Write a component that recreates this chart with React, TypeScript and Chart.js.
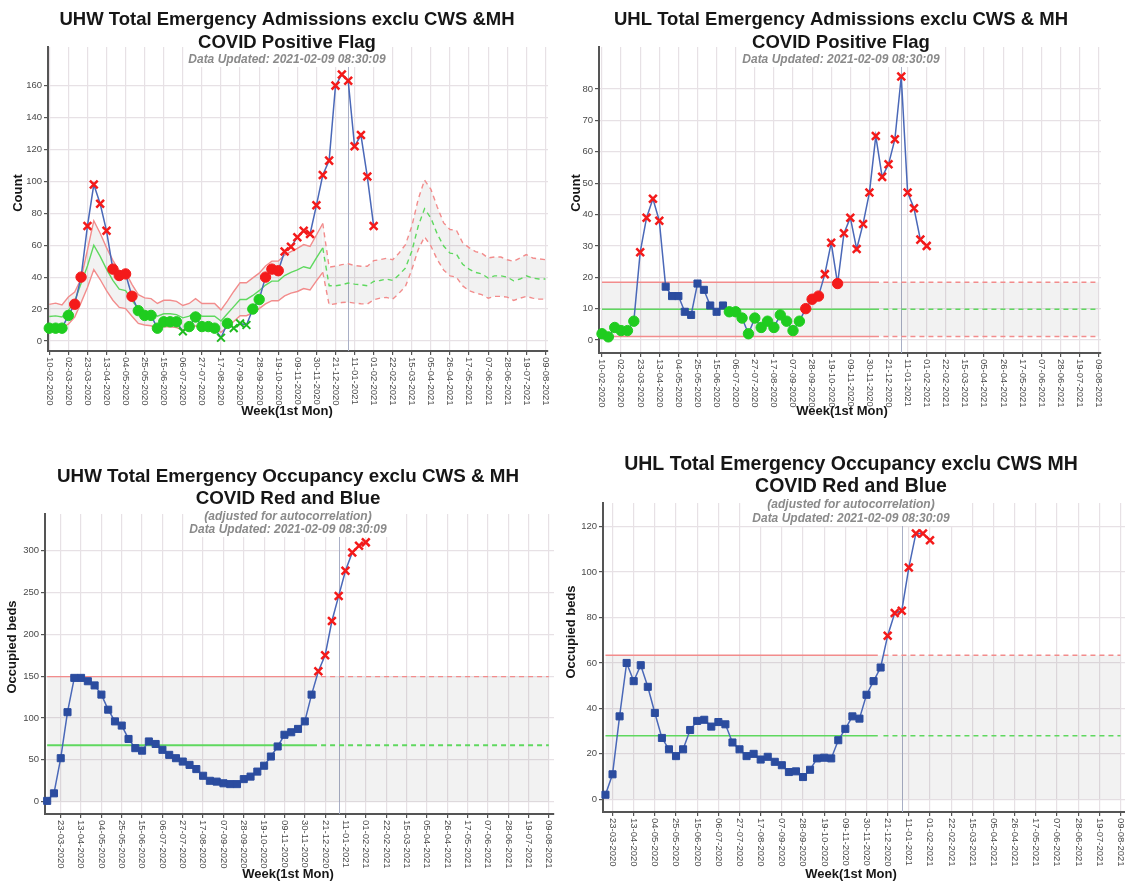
import { useEffect, useRef } from 'react';
import { Chart, registerables } from 'chart.js';

Chart.register(...registerables);

const FONT = "Arial, 'Liberation Sans', Helvetica, sans-serif";

// ---------- shared axis ticks (x = week index, weeks since Mon 10-02-2020) ----------
const admTickWeeks = [0, 3, 6, 9, 12, 15, 18, 21, 24, 27, 30, 33, 36, 39, 42, 45, 48, 51, 54, 57, 60, 63, 66, 69, 72, 75, 78];
const admTickLabels = ['10-02-2020', '02-03-2020', '23-03-2020', '13-04-2020', '04-05-2020', '25-05-2020', '15-06-2020', '06-07-2020', '27-07-2020', '17-08-2020', '07-09-2020', '28-09-2020', '19-10-2020', '09-11-2020', '30-11-2020', '21-12-2020', '11-01-2021', '01-02-2021', '22-02-2021', '15-03-2021', '05-04-2021', '26-04-2021', '17-05-2021', '07-06-2021', '28-06-2021', '19-07-2021', '09-08-2021'];
const occTickWeeks = [6, 9, 12, 15, 18, 21, 24, 27, 30, 33, 36, 39, 42, 45, 48, 51, 54, 57, 60, 63, 66, 69, 72, 75, 78];
const occTickLabels = ['23-03-2020', '13-04-2020', '04-05-2020', '25-05-2020', '15-06-2020', '06-07-2020', '27-07-2020', '17-08-2020', '07-09-2020', '28-09-2020', '19-10-2020', '09-11-2020', '30-11-2020', '21-12-2020', '11-01-2021', '01-02-2021', '22-02-2021', '15-03-2021', '05-04-2021', '26-04-2021', '17-05-2021', '07-06-2021', '28-06-2021', '19-07-2021', '09-08-2021'];
const separatorWeek = 47;
const lastWeek = 78;
const dataUpdated = 'Data Updated: 2021-02-09 08:30:09';
const autocorrNote = '(adjusted for autocorrelation)';

// ---------- UHW emergency admissions (COVID positive flag) ----------
const uhwAdmStartWeek = 0;
const uhwAdmCounts = [8, 8, 8, 16, 23, 40, 72, 98, 86, 69, 45, 41, 42, 28, 19, 16, 16, 8, 12, 12, 12, 6, 9, 15, 9, 9, 8, 2, 11, 8, 11, 10, 20, 26, 40, 45, 44, 56, 59, 65, 69, 67, 85, 104, 113, 160, 167, 163, 122, 129, 103, 72];
const uhwAdmSignals = ['sl', 'sl', 'sl', 'sl', 'sh', 'sh', 'oh', 'oh', 'oh', 'oh', 'sh', 'sh', 'sh', 'sh', 'sl', 'sl', 'sl', 'sl', 'sl', 'sl', 'sl', 'ol', 'sl', 'sl', 'sl', 'sl', 'sl', 'ol', 'sl', 'ol', 'ol', 'ol', 'sl', 'sl', 'sh', 'sh', 'sh', 'oh', 'oh', 'oh', 'oh', 'oh', 'oh', 'oh', 'oh', 'oh', 'oh', 'oh', 'oh', 'oh', 'oh', 'oh'];
const uhwAdmCentre = [15.3, 15.7, 15.0, 19.0, 25.0, 36.0, 47.0, 60.0, 53.0, 45.0, 38.0, 32.5, 31.5, 25.5, 20.0, 18.5, 18.0, 15.5, 17.0, 17.0, 16.5, 14.5, 15.5, 18.0, 15.5, 15.5, 15.5, 12.5, 17.0, 21.5, 26.0, 26.0, 28.5, 31.5, 35.0, 37.5, 37.5, 41.0, 43.0, 44.5, 46.5, 45.5, 52.0, 58.3, 34.6, 34.6, 35.2, 36.3, 35.6, 35.2, 34.6, 37.3, 37.9, 38.8, 37.9, 41.5, 45.7, 56.2, 71.9, 82.8, 77.0, 67.0, 59.5, 55.0, 54.5, 48.0, 45.0, 43.0, 42.0, 39.4, 40.8, 40.8, 40.0, 37.7, 38.8, 40.8, 39.4, 38.8, 38.8];
const uhwAdmUpper = [22.9, 23.7, 22.5, 27.5, 30.6, 39.0, 57.0, 75.3, 67.5, 58.5, 50.5, 44.0, 43.0, 35.5, 29.0, 27.0, 26.5, 23.5, 25.5, 25.5, 24.8, 22.2, 23.5, 26.5, 23.5, 23.5, 23.5, 19.5, 25.0, 31.0, 36.5, 36.5, 39.5, 42.5, 47.0, 50.0, 50.0, 53.8, 56.0, 58.0, 60.4, 59.3, 66.4, 73.6, 46.3, 46.8, 47.8, 48.4, 47.2, 46.8, 46.8, 50.3, 50.9, 51.8, 50.9, 55.1, 60.4, 71.9, 88.7, 100.8, 95.0, 84.0, 74.0, 69.8, 69.4, 61.5, 58.5, 56.0, 55.0, 52.0, 52.6, 52.6, 50.9, 49.9, 52.0, 54.1, 52.0, 51.4, 50.9];
const uhwAdmLower = [8.5, 8.8, 8.3, 10.5, 15.0, 24.0, 33.5, 44.7, 38.5, 31.5, 25.5, 21.0, 20.3, 15.5, 11.0, 10.0, 9.5, 7.6, 8.8, 8.8, 8.4, 6.9, 7.6, 9.5, 7.6, 7.6, 7.6, 5.4, 8.8, 12.2, 15.8, 15.8, 17.8, 20.3, 23.2, 25.2, 25.2, 28.2, 30.0, 31.0, 32.8, 32.0, 37.6, 43.0, 22.6, 23.3, 24.1, 24.3, 23.7, 23.3, 23.1, 25.8, 26.8, 27.3, 26.2, 30.0, 34.2, 44.7, 57.2, 65.2, 59.5, 51.0, 44.5, 40.8, 40.0, 34.5, 31.5, 30.0, 29.0, 26.8, 27.9, 27.9, 27.5, 25.4, 26.8, 27.9, 26.8, 26.2, 26.2];
const uhwAdmBaselineEnd = 43;

// ---------- UHL emergency admissions (COVID positive flag) ----------
const uhlAdmStartWeek = 0;
const uhlAdmCounts = [2, 1, 4, 3, 3, 6, 28, 39, 45, 38, 17, 14, 14, 9, 8, 18, 16, 11, 9, 11, 9, 9, 7, 2, 7, 4, 6, 4, 8, 6, 3, 6, 10, 13, 14, 21, 31, 18, 34, 39, 29, 37, 47, 65, 52, 56, 64, 84, 47, 42, 32, 30];
const uhlAdmSignals = ['sl', 'sl', 'sl', 'sl', 'sl', 'sl', 'oh', 'oh', 'oh', 'oh', 'n', 'n', 'n', 'n', 'n', 'n', 'n', 'n', 'n', 'n', 'sl', 'sl', 'sl', 'sl', 'sl', 'sl', 'sl', 'sl', 'sl', 'sl', 'sl', 'sl', 'sh', 'sh', 'sh', 'oh', 'oh', 'sh', 'oh', 'oh', 'oh', 'oh', 'oh', 'oh', 'oh', 'oh', 'oh', 'oh', 'oh', 'oh', 'oh', 'oh'];
const uhlAdmCentre = 9.8;
const uhlAdmUpper = 18.4;
const uhlAdmLower = 1.1;
const uhlAdmBaselineEnd = 43.5;
const uhlAdmProjectionStart = 44.2;

// ---------- UHW emergency occupancy (COVID red and blue) ----------
const uhwOccStartWeek = 4;
const uhwOccBeds = [1, 10, 52, 107, 148, 148, 144, 139, 128, 110, 96, 91, 75, 64, 61, 72, 69, 62, 56, 52, 48, 44, 39, 31, 25, 24, 22, 21, 21, 27, 30, 36, 43, 54, 66, 80, 83, 87, 96, 128, 156, 175, 216, 246, 276, 298, 306, 310];
const uhwOccSignals = ['n', 'n', 'n', 'n', 'n', 'n', 'n', 'n', 'n', 'n', 'n', 'n', 'n', 'n', 'n', 'n', 'n', 'n', 'n', 'n', 'n', 'n', 'n', 'n', 'n', 'n', 'n', 'n', 'n', 'n', 'n', 'n', 'n', 'n', 'n', 'n', 'n', 'n', 'n', 'n', 'oh', 'oh', 'oh', 'oh', 'oh', 'oh', 'oh', 'oh'];
const uhwOccCentre = 67.5;
const uhwOccUpper = 149.5;
const uhwOccLower = 0;
const uhwOccBaselineEnd = 43.8;
const uhwOccProjectionStart = 44.4;

// ---------- UHL emergency occupancy (COVID red and blue) ----------
const uhlOccStartWeek = 5;
const uhlOccBeds = [2, 11, 36.5, 60, 52, 59, 49.5, 38, 27, 22, 19, 22, 30.5, 34.5, 35, 32, 34, 33, 25, 22, 19, 20, 17.5, 18.7, 16.5, 15, 12, 12.3, 9.8, 13, 18, 18.3, 18, 26, 31, 36.5, 35.5, 46, 52, 58, 72, 82, 83, 102, 117, 117, 114];
const uhlOccSignals = ['n', 'n', 'n', 'n', 'n', 'n', 'n', 'n', 'n', 'n', 'n', 'n', 'n', 'n', 'n', 'n', 'n', 'n', 'n', 'n', 'n', 'n', 'n', 'n', 'n', 'n', 'n', 'n', 'n', 'n', 'n', 'n', 'n', 'n', 'n', 'n', 'n', 'n', 'n', 'n', 'oh', 'oh', 'oh', 'oh', 'oh', 'oh', 'oh'];
const uhlOccCentre = 28;
const uhlOccUpper = 63.4;
const uhlOccLower = 0;
const uhlOccBaselineEnd = 43.6;
const uhlOccProjectionStart = 44.4;

// ---------- styling ----------
const GRID = '#e7e1e5';
const AXIS = '#555555';
const TICK_TEXT = '#4a4a4a';
const DATA_LINE = '#4a68b8';
const RED_LIMIT = '#f28c8c';
const GREEN_LIMIT = '#5fd85f';
const BAND = 'rgba(0,0,0,0.05)';
const DASH = [5, 4];

const SIGNAL_STYLE: Record<string, any> = {
  n: { style: 'rect', radius: 5, bg: '#2b4c9f', border: '#2b4c9f', bw: 1 },
  sh: { style: 'circle', radius: 5.2, bg: '#f41a1a', border: '#f41a1a', bw: 1 },
  sl: { style: 'circle', radius: 5.2, bg: '#1fcc1f', border: '#1fcc1f', bw: 1 },
  oh: { style: 'crossRot', radius: 5.5, bg: '#f41a1a', border: '#f41a1a', bw: 2.5 },
  ol: { style: 'crossRot', radius: 5.5, bg: '#1fbb1f', border: '#1fbb1f', bw: 2 },
};

function dataSeries(start: number, values: number[], signals: string[]) {
  const st = (i: number) => SIGNAL_STYLE[signals[i]] || SIGNAL_STYLE.n;
  return {
    data: values.map((v, i) => ({ x: start + i, y: v })),
    borderColor: DATA_LINE,
    borderWidth: 1.5,
    pointStyle: (c: any) => st(c.dataIndex).style,
    pointRadius: (c: any) => st(c.dataIndex).radius,
    pointBackgroundColor: (c: any) => st(c.dataIndex).bg,
    pointBorderColor: (c: any) => st(c.dataIndex).border,
    pointBorderWidth: (c: any) => st(c.dataIndex).bw,
    fill: false,
    clip: false,
    order: 0,
  };
}

function varyingLimit(values: number[], color: string, split: number, extra: any = {}) {
  return {
    data: values.map((v, i) => ({ x: i, y: v })),
    borderColor: color,
    borderWidth: 1.4,
    pointRadius: 0,
    segment: { borderDash: (c: any) => (c.p0.parsed.x >= split ? DASH : undefined) },
    fill: false,
    order: 2,
    ...extra,
  };
}

function constantLimit(value: number, color: string, start: number, baseEnd: number, projStart: number) {
  return {
    data: [
      { x: start, y: value },
      { x: baseEnd, y: value },
      { x: (baseEnd + projStart) / 2, y: null },
      { x: projStart, y: value },
      { x: lastWeek, y: value },
    ],
    borderColor: color,
    borderWidth: 1.4,
    pointRadius: 0,
    spanGaps: false,
    segment: { borderDash: (c: any) => (c.p0.parsed.x >= projStart - 0.01 ? DASH : undefined) },
    fill: false,
    order: 2,
  };
}

function constantBand(upper: number, lower: number, start: number) {
  return {
    data: [
      { x: start, y: upper },
      { x: lastWeek, y: upper },
    ],
    borderWidth: 0,
    borderColor: 'rgba(0,0,0,0)',
    pointRadius: 0,
    backgroundColor: BAND,
    fill: { value: lower },
    order: 3,
  };
}

const PANELS: any[] = [
  {
    key: 'uhw-adm',
    box: { left: 0, top: 0, w: 560, h: 420 },
    area: { l: 48, t: 47, r: 548, b: 351 },
    xMin: -0.2, xMax: 78.41, xTicks: admTickWeeks, xLabels: admTickLabels,
    yMin: -6.3, yMax: 184.2, yTicks: [0, 20, 40, 60, 80, 100, 120, 140, 160],
    title: ['UHW Total Emergency Admissions exclu CWS &MH', 'COVID Positive Flag'],
    titleSize: 18.5, titleCx: 287, titleYs: [20, 43],
    subs: [dataUpdated], subYs: [60],
    yTitle: 'Count', yTitleX: 18, yTitleCy: 193,
    xTitleCx: 287, xTitleY: 411,
    datasets: () => [
      dataSeries(uhwAdmStartWeek, uhwAdmCounts, uhwAdmSignals),
      varyingLimit(uhwAdmLower, RED_LIMIT, uhwAdmBaselineEnd),
      varyingLimit(uhwAdmUpper, RED_LIMIT, uhwAdmBaselineEnd, { fill: 1, backgroundColor: BAND }),
      varyingLimit(uhwAdmCentre, GREEN_LIMIT, uhwAdmBaselineEnd, { order: 1 }),
    ],
  },
  {
    key: 'uhl-adm',
    box: { left: 560, top: 0, w: 565, h: 420 },
    area: { l: 39, t: 47, r: 541, b: 353 },
    xMin: -0.47, xMax: 78.37, xTicks: admTickWeeks, xLabels: admTickLabels,
    yMin: -4.14, yMax: 93.4, yTicks: [0, 10, 20, 30, 40, 50, 60, 70, 80],
    title: ['UHL Total Emergency Admissions exclu CWS & MH', 'COVID Positive Flag'],
    titleSize: 18.5, titleCx: 281, titleYs: [20, 43],
    subs: [dataUpdated], subYs: [60],
    yTitle: 'Count', yTitleX: 16, yTitleCy: 193,
    xTitleCx: 282, xTitleY: 411,
    datasets: () => [
      dataSeries(uhlAdmStartWeek, uhlAdmCounts, uhlAdmSignals),
      constantBand(uhlAdmUpper, uhlAdmLower, uhlAdmStartWeek),
      constantLimit(uhlAdmUpper, RED_LIMIT, uhlAdmStartWeek, uhlAdmBaselineEnd, uhlAdmProjectionStart),
      constantLimit(uhlAdmLower, RED_LIMIT, uhlAdmStartWeek, uhlAdmBaselineEnd, uhlAdmProjectionStart),
      { ...constantLimit(uhlAdmCentre, GREEN_LIMIT, uhlAdmStartWeek, uhlAdmBaselineEnd, uhlAdmProjectionStart), order: 1 },
    ],
  },
  {
    key: 'uhw-occ',
    box: { left: 0, top: 440, w: 560, h: 441 },
    area: { l: 45, t: 74, r: 554, b: 374 },
    xMin: 3.68, xMax: 78.76, xTicks: occTickWeeks, xLabels: occTickLabels,
    yMin: -14.7, yMax: 343.9, yTicks: [0, 50, 100, 150, 200, 250, 300],
    title: ['UHW Total Emergency Occupancy exclu CWS & MH', 'COVID Red and Blue'],
    titleSize: 18.8, titleCx: 288, titleYs: [37, 59],
    subs: [autocorrNote, dataUpdated], subYs: [77, 90],
    yTitle: 'Occupied beds', yTitleX: 12, yTitleCy: 207,
    xTitleCx: 288, xTitleY: 434,
    datasets: () => [
      dataSeries(uhwOccStartWeek, uhwOccBeds, uhwOccSignals),
      constantBand(uhwOccUpper, uhwOccLower, uhwOccStartWeek),
      constantLimit(uhwOccUpper, RED_LIMIT, uhwOccStartWeek, uhwOccBaselineEnd, uhwOccProjectionStart),
      { ...constantLimit(uhwOccCentre, GREEN_LIMIT, uhwOccStartWeek, uhwOccBaselineEnd, uhwOccProjectionStart), order: 1, borderWidth: 1.8 },
    ],
  },
  {
    key: 'uhl-occ',
    box: { left: 560, top: 440, w: 565, h: 441 },
    area: { l: 43, t: 63, r: 565, b: 372 },
    xMin: 4.65, xMax: 78.64, xTicks: occTickWeeks, xLabels: occTickLabels,
    yMin: -5.59, yMax: 130.4, yTicks: [0, 20, 40, 60, 80, 100, 120],
    title: ['UHL Total Emergency Occupancy exclu CWS MH', 'COVID Red and Blue'],
    titleSize: 19.5, titleCx: 291, titleYs: [25, 47],
    subs: [autocorrNote, dataUpdated], subYs: [65, 79],
    yTitle: 'Occupied beds', yTitleX: 11, yTitleCy: 192,
    xTitleCx: 291, xTitleY: 434,
    datasets: () => [
      dataSeries(uhlOccStartWeek, uhlOccBeds, uhlOccSignals),
      constantBand(uhlOccUpper, uhlOccLower, uhlOccStartWeek),
      constantLimit(uhlOccUpper, RED_LIMIT, uhlOccStartWeek, uhlOccBaselineEnd, uhlOccProjectionStart),
      { ...constantLimit(uhlOccCentre, GREEN_LIMIT, uhlOccStartWeek, uhlOccBaselineEnd, uhlOccProjectionStart), order: 1 },
    ],
  },
];

function panelPlugin(spec: any) {
  return {
    id: 'panelDecor-' + spec.key,
    beforeDatasetsDraw(chart: any) {
      const { ctx, chartArea } = chart;
      const px = chart.scales.x.getPixelForValue(separatorWeek);
      ctx.save();
      ctx.strokeStyle = '#a9afc6';
      ctx.lineWidth = 1;
      ctx.beginPath();
      ctx.moveTo(Math.round(px) + 0.5, chartArea.top);
      ctx.lineTo(Math.round(px) + 0.5, chartArea.bottom);
      ctx.stroke();
      ctx.restore();
    },
    afterDraw(chart: any) {
      const { ctx, chartArea } = chart;
      ctx.save();
      // white box behind subtitles
      const subFont = `italic bold 12px ${FONT}`;
      ctx.font = subFont;
      let maxW = 0;
      spec.subs.forEach((s: string) => { maxW = Math.max(maxW, ctx.measureText(s).width); });
      const boxBottom = spec.subYs[spec.subYs.length - 1] + 7;
      if (boxBottom > chartArea.top) {
        ctx.fillStyle = '#ffffff';
        ctx.fillRect(spec.titleCx - maxW / 2 - 4, chartArea.top, maxW + 8, boxBottom - chartArea.top);
      }
      // titles
      ctx.fillStyle = '#161616';
      ctx.textAlign = 'center';
      ctx.textBaseline = 'middle';
      ctx.font = `bold ${spec.titleSize}px ${FONT}`;
      spec.title.forEach((t: string, i: number) => ctx.fillText(t, spec.titleCx, spec.titleYs[i]));
      ctx.fillStyle = '#8a8a8a';
      ctx.font = subFont;
      spec.subs.forEach((t: string, i: number) => ctx.fillText(t, spec.titleCx, spec.subYs[i]));
      // x tick labels, rotated to read top-to-bottom
      const xs = chart.scales.x;
      ctx.fillStyle = TICK_TEXT;
      ctx.font = `9.5px ${FONT}`;
      ctx.textAlign = 'left';
      ctx.textBaseline = 'middle';
      spec.xTicks.forEach((w: number, i: number) => {
        const px = xs.getPixelForValue(w);
        ctx.save();
        ctx.translate(px, chartArea.bottom + 6);
        ctx.rotate(Math.PI / 2);
        ctx.fillText(spec.xLabels[i], 0, 0);
        ctx.restore();
      });
      // axis titles
      ctx.fillStyle = '#161616';
      ctx.font = `bold 13px ${FONT}`;
      ctx.textAlign = 'center';
      ctx.textBaseline = 'middle';
      ctx.fillText('Week(1st Mon)', spec.xTitleCx, spec.xTitleY);
      ctx.save();
      ctx.translate(spec.yTitleX, spec.yTitleCy);
      ctx.rotate(-Math.PI / 2);
      ctx.fillText(spec.yTitle, 0, 0);
      ctx.restore();
      ctx.restore();
    },
  };
}

function buildConfig(spec: any): any {
  const grid = { color: GRID, lineWidth: 1.2, tickLength: 4, tickColor: AXIS, tickWidth: 1.2, drawTicks: true };
  const border = { display: true, color: AXIS, width: 2 };
  return {
    type: 'line',
    data: { datasets: spec.datasets() },
    options: {
      animation: false,
      responsive: false,
      devicePixelRatio: 1,
      layout: { autoPadding: false, padding: { top: spec.area.t, left: 0, right: spec.box.w - spec.area.r, bottom: 0 } },
      plugins: { legend: { display: false }, tooltip: { enabled: false }, title: { display: false } },
      elements: { line: { tension: 0 } },
      scales: {
        x: {
          type: 'linear',
          min: spec.xMin,
          max: spec.xMax,
          afterBuildTicks: (s: any) => { s.ticks = spec.xTicks.map((v: number) => ({ value: v })); },
          afterFit: (s: any) => { s.height = spec.box.h - spec.area.b; },
          ticks: { display: false, autoSkip: false },
          grid,
          border,
        },
        y: {
          type: 'linear',
          min: spec.yMin,
          max: spec.yMax,
          afterBuildTicks: (s: any) => { s.ticks = spec.yTicks.map((v: number) => ({ value: v })); },
          afterFit: (s: any) => { s.width = spec.area.l; },
          ticks: { font: { family: FONT, size: 9.5 }, color: TICK_TEXT, padding: 2 },
          grid,
          border,
        },
      },
    },
    plugins: [panelPlugin(spec)],
  };
}

function Panel({ spec }: { spec: any }) {
  const ref = useRef<HTMLCanvasElement>(null);
  useEffect(() => {
    if (!ref.current) return;
    const chart = new Chart(ref.current, buildConfig(spec));
    return () => chart.destroy();
  }, [spec]);
  return (
    <canvas
      ref={ref}
      width={spec.box.w}
      height={spec.box.h}
      style={{ position: 'absolute', left: spec.box.left, top: spec.box.top, width: spec.box.w, height: spec.box.h }}
    />
  );
}

export default function App() {
  return (
    <div style={{ position: 'absolute', left: 0, top: 0, width: 1125, height: 881, overflow: 'hidden', background: '#ffffff' }}>
      {PANELS.map((p) => (
        <Panel key={p.key} spec={p} />
      ))}
    </div>
  );
}
